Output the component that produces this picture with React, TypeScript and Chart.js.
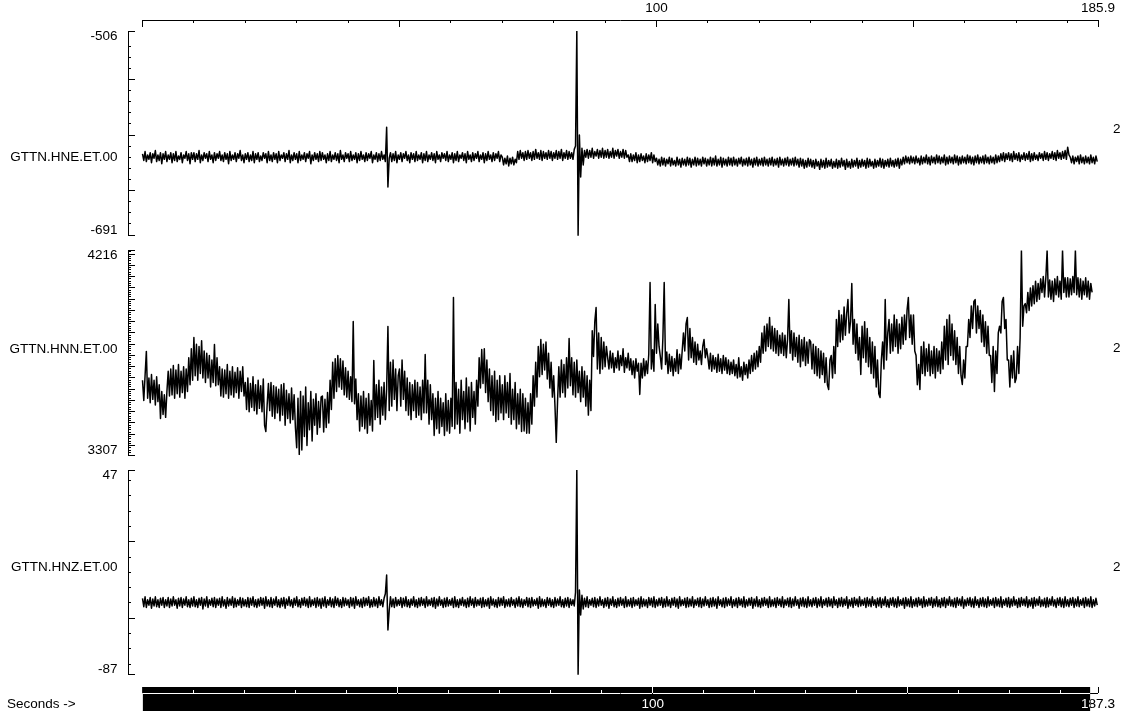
import React, { useEffect, useRef } from 'react';
import { Chart, registerables } from 'chart.js';

Chart.register(...registerables);

// ---------------- data ----------------
const SAMPLE_DT = 0.25; // seconds between plotted samples
const CHANNELS = ['GTTN.HNE.ET.00', 'GTTN.HNN.ET.00', 'GTTN.HNZ.ET.00'];
const CHANNEL_GAINS = ['2', '2', '2'];
const HNE_RANGE = [-691, -506];
const HNN_RANGE = [3307, 4216];
const HNZ_RANGE = [-87, 47];

const HNE_VALUES = [
  -617, -623, -615, -624, -618, -622, -616, -625, -617, -621, -614, -624, -618, -623, -616, -626, -617, -622, -615, -624,
  -618, -622, -616, -625, -617, -623, -615, -624, -619, -622, -616, -625, -618, -621, -615, -623, -617, -626, -616, -622,
  -616, -624, -617, -622, -614, -625, -618, -623, -616, -621, -617, -624, -615, -622, -618, -625, -616, -623, -617, -621,
  -615, -623, -618, -624, -616, -622, -617, -626, -615, -623, -618, -622, -616, -624, -617, -621, -614, -623, -618, -625,
  -617, -622, -616, -624, -618, -623, -615, -625, -617, -622, -616, -624, -619, -623, -616, -621, -617, -625, -615, -623,
  -618, -624, -616, -622, -617, -625, -615, -623, -618, -621, -616, -624, -617, -622, -614, -625, -618, -623, -616, -622,
  -617, -625, -615, -623, -618, -622, -616, -624, -617, -621, -615, -626, -618, -623, -616, -622, -617, -624, -615, -623,
  -616, -622, -618, -625, -617, -623, -615, -624, -618, -622, -616, -623, -617, -625, -614, -622, -618, -624, -616, -621,
  -617, -624, -615, -623, -618, -622, -616, -625, -617, -623, -615, -622, -618, -624, -616, -623, -617, -621, -615, -625,
  -618, -622, -616, -624, -617, -623, -615, -622, -618, -624, -593, -647, -621, -616, -624, -617, -623, -615, -625, -618,
  -622, -616, -624, -617, -621, -615, -623, -618, -625, -616, -622, -617, -624, -615, -623, -618, -622, -616, -625, -617,
  -623, -615, -624, -618, -622, -616, -623, -617, -625, -615, -622, -618, -624, -616, -621, -617, -623, -615, -624, -618,
  -622, -616, -625, -617, -623, -615, -624, -618, -621, -616, -623, -617, -625, -615, -622, -618, -624, -616, -623, -617,
  -621, -615, -624, -618, -622, -616, -625, -617, -623, -615, -622, -618, -624, -616, -623, -617, -621, -615, -624, -618,
  -620, -627, -621, -626, -619, -628, -621, -626, -620, -627, -622, -625, -615, -622, -614, -621, -616, -623, -615, -622,
  -614, -621, -616, -623, -615, -622, -613, -621, -616, -622, -614, -623, -615, -621, -616, -622, -614, -621, -615, -623,
  -616, -621, -614, -622, -615, -621, -613, -623, -616, -621, -614, -622, -615, -621, -616, -622, -613, -610, -506, -691,
  -600, -638, -612, -627, -614, -620, -613, -621, -614, -620, -612, -621, -615, -619, -613, -621, -614, -620, -612, -621,
  -614, -620, -613, -621, -615, -620, -612, -621, -614, -619, -613, -621, -615, -620, -613, -621, -614, -620, -618, -624,
  -617, -624, -618, -623, -616, -625, -618, -624, -617, -623, -619, -625, -617, -624, -618, -623, -616, -625, -618, -624,
  -621, -627, -622, -628, -620, -627, -621, -628, -622, -626, -620, -628, -621, -627, -623, -628, -620, -627, -622, -629,
  -621, -627, -622, -628, -620, -627, -621, -629, -622, -627, -620, -628, -621, -627, -622, -628, -620, -626, -621, -628,
  -622, -627, -620, -628, -621, -627, -619, -628, -622, -627, -620, -629, -621, -627, -622, -628, -620, -627, -621, -628,
  -620, -627, -622, -628, -621, -626, -620, -628, -622, -627, -621, -628, -620, -627, -622, -629, -621, -627, -620, -628,
  -622, -627, -621, -628, -620, -627, -622, -628, -621, -627, -620, -628, -622, -627, -621, -629, -620, -627, -622, -628,
  -621, -627, -620, -628, -622, -627, -621, -628, -620, -627, -622, -629, -621, -628, -622, -630, -623, -629, -621, -628,
  -622, -629, -623, -630, -622, -628, -624, -631, -622, -629, -623, -630, -621, -629, -623, -628, -622, -630, -624, -629,
  -622, -630, -623, -629, -621, -628, -623, -631, -622, -629, -624, -630, -622, -629, -623, -628, -621, -630, -623, -629,
  -622, -628, -623, -630, -621, -629, -622, -628, -624, -630, -622, -629, -623, -628, -621, -629, -622, -630, -623, -628,
  -622, -629, -621, -628, -623, -629, -622, -628, -621, -630, -622, -627, -620, -626, -619, -625, -620, -626, -619, -625,
  -620, -626, -619, -625, -621, -627, -619, -626, -620, -625, -618, -626, -620, -627, -619, -625, -620, -626, -618, -625,
  -619, -626, -620, -625, -618, -627, -620, -626, -619, -625, -620, -626, -618, -625, -619, -627, -620, -626, -619, -625,
  -620, -626, -618, -625, -619, -626, -620, -627, -619, -625, -618, -626, -620, -625, -619, -626, -618, -625, -620, -626,
  -619, -625, -620, -626, -618, -625, -619, -624, -617, -623, -616, -624, -617, -622, -616, -623, -617, -624, -615, -622,
  -617, -623, -616, -624, -618, -622, -616, -623, -617, -622, -615, -624, -617, -623, -616, -622, -618, -623, -616, -621,
  -617, -623, -615, -622, -616, -623, -617, -621, -615, -622, -616, -623, -614, -621, -616, -622, -615, -621, -614, -622,
  -611, -618, -620, -625, -619, -626, -620, -624, -619, -626, -618, -625, -620, -626, -619, -625, -620, -626, -618, -625,
  -620, -626, -619, -624,
];

const HNN_VALUES = [
  3640, 3550, 3660, 3768, 3560, 3650, 3540, 3665, 3555, 3640, 3530, 3655, 3545, 3620, 3470, 3590, 3488, 3575, 3475, 3590,
  3680, 3570, 3690, 3575, 3705, 3560, 3685, 3580, 3710, 3565, 3680, 3585, 3700, 3560, 3690, 3590, 3740, 3620, 3780, 3640,
  3830, 3660, 3800, 3640, 3790, 3670, 3815, 3650, 3770, 3630, 3760, 3650, 3750, 3610, 3730, 3630, 3799, 3615, 3740, 3620,
  3700, 3570, 3690, 3565, 3685, 3580, 3710, 3560, 3680, 3575, 3700, 3565, 3675, 3585, 3695, 3560, 3680, 3590, 3700, 3570,
  3630, 3510, 3650, 3500, 3625, 3520, 3655, 3505, 3620, 3490, 3640, 3515, 3615, 3500, 3645, 3440, 3412, 3530, 3625, 3505,
  3630, 3480, 3615, 3470, 3610, 3495, 3600, 3460, 3620, 3485, 3625, 3440, 3595, 3470, 3580, 3450, 3605, 3465, 3575, 3430,
  3340, 3560, 3310, 3590, 3330, 3570, 3390, 3610, 3350, 3540, 3420, 3590, 3370, 3555, 3440, 3580, 3400, 3545, 3430, 3565,
  3570, 3410, 3555, 3430, 3585, 3450, 3640, 3510, 3720, 3560, 3735, 3590, 3750, 3610, 3735, 3600, 3725, 3575, 3695, 3565,
  3680, 3555, 3655, 3545, 3901, 3535, 3645, 3465, 3580, 3415, 3570, 3435, 3590, 3425, 3560, 3405, 3580, 3440, 3550, 3415,
  3728, 3465, 3620, 3475, 3640, 3445, 3610, 3485, 3630, 3465, 3600, 3879, 3505, 3720, 3525, 3730, 3555, 3690, 3505, 3660,
  3690, 3525, 3730, 3555, 3680, 3505, 3650, 3485, 3630, 3465, 3620, 3505, 3640, 3475, 3630, 3485, 3610, 3465, 3640, 3495,
  3754, 3495, 3640, 3445, 3620, 3465, 3580, 3395, 3560, 3425, 3590, 3405, 3560, 3435, 3540, 3395, 3580, 3415, 3550, 3405,
  3560, 3435, 4007, 3425, 3630, 3445, 3600, 3405, 3640, 3465, 3590, 3425, 3650, 3455, 3610, 3415, 3630, 3475, 3590, 3445,
  3640, 3525, 3740, 3605, 3776, 3625, 3780, 3585, 3730, 3545, 3690, 3505, 3660, 3485, 3680, 3457, 3640, 3465, 3660, 3495,
  3620, 3465, 3660, 3495, 3630, 3475, 3670, 3445, 3600, 3465, 3630, 3425, 3580, 3445, 3600, 3412, 3580, 3415, 3560, 3405,
  3540, 3405, 3580, 3445, 3660, 3525, 3720, 3565, 3790, 3655, 3821, 3665, 3800, 3685, 3810, 3645, 3760, 3605, 3720, 3565,
  3660, 3525, 3364, 3545, 3700, 3565, 3730, 3585, 3710, 3565, 3740, 3605, 3825, 3615, 3740, 3575, 3720, 3565, 3730, 3585,
  3680, 3545, 3700, 3565, 3680, 3525, 3660, 3485, 3640, 3505, 3860, 3745, 3900, 3963, 3690, 3850, 3670, 3830, 3690, 3810,
  3700, 3790, 3740, 3690, 3770, 3695, 3760, 3675, 3740, 3695, 3770, 3685, 3750, 3705, 3780, 3675, 3740, 3695, 3760, 3685,
  3735, 3665, 3725, 3650, 3735, 3680, 3715, 3577, 3715, 3650, 3735, 3660, 3725, 3670, 3755, 4074, 3690, 3775, 3680, 3976,
  3760, 3890, 3790, 3745, 3690, 3830, 4074, 3710, 3765, 3670, 3755, 3680, 3745, 3660, 3735, 3680, 3775, 3670, 3755, 3690,
  3770, 3850, 3770, 3890, 3918, 3730, 3870, 3740, 3830, 3720, 3810, 3710, 3800, 3730, 3770, 3710, 3790, 3821, 3740, 3780,
  3740, 3690, 3760, 3680, 3750, 3690, 3740, 3675, 3755, 3680, 3735, 3670, 3750, 3685, 3740, 3670, 3730, 3665, 3720, 3670,
  3730, 3660, 3710, 3650, 3740, 3655, 3700, 3640, 3720, 3665, 3710, 3650, 3730, 3670, 3750, 3680, 3760, 3690, 3770, 3700,
  3790, 3720, 3850, 3760, 3880, 3770, 3890, 3790, 3918, 3780, 3880, 3770, 3870, 3760, 3860, 3750, 3840, 3760, 3850, 3750,
  3840, 3740, 3820, 3998, 3760, 3860, 3730, 3850, 3745, 3830, 3720, 3840, 3700, 3820, 3725, 3830, 3705, 3810, 3715, 3820,
  3810, 3690, 3800, 3670, 3790, 3660, 3780, 3650, 3770, 3665, 3760, 3630, 3740, 3620, 3599, 3730, 3750, 3650, 3790, 3670,
  3910, 3790, 3950, 3810, 3930, 3820, 3965, 3840, 3935, 3998, 3850, 3900, 4069, 3800, 3910, 3760, 3890, 3730, 3830, 3665,
  3880, 3740, 3900, 3720, 3870, 3700, 3830, 3670, 3810, 3650, 3790, 3610, 3730, 3580, 3563, 3730, 3810, 3690, 3998, 3730,
  3850, 3910, 3760, 3890, 3770, 3930, 3790, 3910, 3760, 3890, 3780, 3920, 3800, 3930, 3820, 3950, 4007, 3830, 3930, 3800,
  3930, 3770, 3750, 3620, 3710, 3599, 3790, 3670, 3810, 3660, 3780, 3680, 3800, 3660, 3770, 3670, 3790, 3650, 3780, 3680,
  3770, 3670, 3810, 3690, 3880, 3730, 3910, 3710, 3930, 3750, 3890, 3730, 3860, 3710, 3830, 3670, 3790, 3660, 3621, 3730,
  3650, 3790, 3790, 3910, 3830, 3970, 3870, 3990, 3998, 3850, 3970, 3870, 3950, 3810, 3930, 3790, 3900, 3760, 3880, 3750,
  3750, 3630, 3790, 3590, 3770, 3670, 3850, 3880, 3850, 3990, 4007, 3870, 3910, 3730, 3730, 3610, 3750, 3650, 3770, 3630,
  3650, 3790, 3670, 3830, 4216, 3880, 3970, 3980, 3940, 4030, 3950, 4050, 3970, 4060, 3980, 4080, 3990, 4070, 4000, 4090,
  4030, 4100, 4010, 4095, 4216, 4010, 4085, 4000, 4080, 3990, 4090, 4020, 4100, 4010, 4080, 4000, 4216, 4030, 4095, 4010,
  4095, 4010, 4090, 4020, 4100, 4030, 4216, 4020, 4095, 4010, 4090, 4000, 4080, 4020, 4095, 4010, 4080, 4000, 4070, 4030,
];

const HNZ_VALUES = [
  -37, -42.5, -36, -43, -38, -41.5, -36.5, -43.5, -37.5, -42, -36, -42.5, -38, -43, -37, -41.5, -36.5, -43, -38, -42,
  -36.5, -43, -37.5, -42, -36, -41.5, -38, -43.5, -37, -42, -36.5, -43, -37.5, -41.5, -36, -42.5, -38, -43, -37, -42,
  -36, -42.5, -38, -43, -37, -41.5, -36.5, -44, -37.5, -42, -36, -43, -38, -41.5, -37, -42.5, -36.5, -43, -37.5, -41.5,
  -37, -43, -36, -42, -38, -43.5, -36.5, -42, -37.5, -41.5, -36, -43, -37, -42.5, -38, -41.5, -36.5, -43, -37, -42,
  -38, -42.5, -36.5, -43, -37, -41.5, -36, -42.5, -38, -43, -37.5, -42, -36.5, -41.5, -37, -43.5, -36, -42, -38, -42.5,
  -36.5, -43, -37.5, -41.5, -36, -42.5, -38, -43, -37, -42, -36.5, -43.5, -37.5, -41.5, -36, -42, -38, -43, -37, -41.5,
  -36, -42.5, -38, -43, -37, -41.5, -36.5, -42, -37.5, -43, -36, -42.5, -38, -41.5, -37, -43, -36.5, -42, -37.5, -43.5,
  -37, -42, -36, -43, -38, -41.5, -36.5, -42.5, -37.5, -43, -36, -41.5, -37, -42.5, -38, -43, -36.5, -42, -37, -41.5,
  -38, -43, -36.5, -42, -37, -43.5, -36, -41.5, -38, -42.5, -37.5, -43, -36.5, -42, -37, -41.5, -36, -43, -38, -42.5,
  -36.5, -42, -37.5, -43, -36, -41.5, -38, -42.5, -37, -34, -21.7, -57.7, -45, -36, -42.5, -37.5, -43, -36.5, -42, -38,
  -41.5, -36.5, -43, -37, -42, -36, -42.5, -38, -43, -37.5, -41.5, -36, -42.5, -38, -43, -37, -42, -36.5, -41.5, -37.5,
  -43, -36, -42, -38, -41.5, -37, -42.5, -36.5, -43.5, -37.5, -42, -36, -41.5, -38, -43, -37, -42.5, -36.5, -42, -38,
  -41.5, -37, -43, -36, -42.5, -38, -43, -37.5, -41.5, -36.5, -42, -38, -43, -37, -42.5, -36, -41.5, -37.5, -43, -36.5,
  -42, -38, -41.5, -37, -43, -36.5, -42.5, -38, -42, -37, -43.5, -36, -41.5, -37.5, -42.5, -38, -43, -36.5, -42, -37,
  -41.5, -36, -43, -38, -42, -37.5, -42.5, -36.5, -41.5, -38, -43, -37, -42, -36, -42.5, -37.5, -43, -38, -41.5, -36.5,
  -42.5, -37, -43, -36.5, -42, -38, -41.5, -37, -43.5, -36, -42.5, -37.5, -42, -38, -43, -36.5, -41.5, -37, -42.5, -38,
  -43, -36.5, -42, -37.5, -41.5, -36, -42.5, -38, -43, -37, -42, -36.5, -43, -37.5, -41.5, -38, -42, -33, 47, -87,
  -31.5, -47.9, -35, -44, -37, -42.5, -36, -43, -38, -41.5, -37, -42.5, -36.5, -43, -37.5, -42, -36, -41.5, -38, -43,
  -37, -42, -36.5, -43.5, -37.5, -41.5, -36, -42.5, -38, -43, -37, -42, -36.5, -41.5, -37.5, -43, -36, -42.5, -38, -42,
  -37, -43, -36.5, -42, -38, -41.5, -37, -43.5, -36, -42.5, -37.5, -42, -38, -43, -36.5, -41.5, -37, -42.5, -36, -43,
  -38, -42, -37, -41.5, -36.5, -43, -37.5, -42.5, -36, -42, -38, -43, -37, -41.5, -36.5, -42.5, -37.5, -43.5, -36, -42,
  -38, -41.5, -37, -43, -36.5, -42.5, -37.5, -42, -36, -43, -38, -41.5, -37, -42.5, -36.5, -43, -37.5, -42, -36, -41.5,
  -38, -43, -37, -42.5, -36.5, -42, -37.5, -43.5, -36, -41.5, -38, -42.5, -37, -43, -36.5, -42, -37.5, -41.5, -36, -43,
  -38, -42, -37, -43, -36.5, -41.5, -37.5, -42.5, -36, -43, -38, -42, -37, -41.5, -36.5, -43.5, -37.5, -42, -36, -42.5,
  -38, -43, -37, -42, -36.5, -41.5, -37.5, -43, -36, -42.5, -38, -42, -37, -43, -36.5, -41.5, -37.5, -42.5, -36, -43,
  -38, -41.5, -37, -42.5, -36.5, -43, -37.5, -42, -36, -41.5, -38, -43.5, -37, -42, -36.5, -42.5, -37.5, -43, -36, -42,
  -38, -42.5, -37, -41.5, -36.5, -43, -37.5, -42, -36, -43, -38, -41.5, -37, -42.5, -36.5, -42, -37.5, -43, -36, -41.5,
  -38, -43, -37, -42, -36.5, -42.5, -37.5, -41.5, -36, -43.5, -38, -42, -37, -43, -36.5, -41.5, -37.5, -42.5, -36, -42,
  -38, -41.5, -37, -43, -36.5, -42, -37.5, -42.5, -36, -41.5, -38, -43, -37, -42, -36.5, -43, -37.5, -41.5, -36, -42.5,
  -38, -43, -37, -41.5, -36.5, -42.5, -37.5, -43, -36, -42, -38, -41.5, -37, -43.5, -36.5, -42, -37.5, -42.5, -36, -43,
  -38, -42, -37, -42.5, -36.5, -41.5, -37.5, -43, -36, -42.5, -38, -42, -37, -41.5, -36.5, -43, -37.5, -42, -36, -42.5,
  -38, -43, -37, -42, -36.5, -43, -37.5, -41.5, -36, -42, -38, -42.5, -37, -43, -36.5, -41.5, -37.5, -42, -36, -43.5,
  -38, -42, -37, -41.5, -36.5, -42.5, -37.5, -43, -36, -41.5, -38, -43, -37, -42, -36.5, -42.5, -37.5, -43, -36, -42,
  -38, -41.5, -37, -43, -36.5, -42, -37.5, -42.5, -36, -43, -38, -41.5, -37, -42.5, -36.5, -43, -37.5, -42, -36, -41.5,
  -38, -43, -37, -42.5, -36.5, -41.5, -37.5, -42, -36, -43, -38, -42, -37, -43.5, -36.5, -42, -37.5, -41.5, -36, -42.5,
  -38, -42, -37, -43, -36.5, -42.5, -37.5, -41.5, -36, -42, -38, -43, -37, -41.5, -36.5, -42.5, -37.5, -43, -36, -42,
  -38, -42.5, -37, -41.5, -36.5, -43, -37.5, -42, -36, -42.5, -38, -41.5, -37, -43, -36.5, -42, -37.5, -42.5, -36, -43,
  -38, -42, -37, -41.5,
];

const TOP_AXIS_MAX = 185.9;
const TOP_MAJOR_TICKS = [0, 50, 100, 150, 185.9];
const TOP_MINOR_TICKS = [10, 20, 30, 40, 60, 70, 80, 90, 110, 120, 130, 140, 160, 170, 180];
const TOP_TICK_LABELS = [100, 185.9];
const BOTTOM_AXIS_MAX = 187.3;
const BOTTOM_MAJOR_TICKS = [0, 50, 100, 150, 187.3];
const BOTTOM_MINOR_TICKS = [10, 20, 30, 40, 60, 70, 80, 90, 110, 120, 130, 140, 160, 170, 180];
const BOTTOM_TICK_LABELS = [100, 187.3];
const BOTTOM_BAR_SPAN = [0, 185.8];
const X_AXIS_TITLE = 'Seconds ->';

// ---------------- layout / style ----------------
const W = 1123;
const FONT = { family: '"Liberation Sans", Arial, Helvetica, sans-serif', size: 13.5, lineHeight: 0.74 };
const TRACE_WIDTH = 1.5;
const PLOT_LEFT = 142.5;
const PLOT_RIGHT = 1098;
const AXIS_LINE_X = 128;
const PX_PER_SEC = (PLOT_RIGHT - PLOT_LEFT) / TOP_AXIS_MAX;
const X_MIN = -(PLOT_LEFT - AXIS_LINE_X) / PX_PER_SEC;
const PANEL_H = 204.7;
const CANVAS_H = 214;
const PANEL_LAYOUT = [
  { canvasTop: 27, plotTop: 31, labelFrac: 0.3845, gainFrac: 0.5213 },
  { canvasTop: 246, plotTop: 250.5, labelFrac: 0.5188, gainFrac: 0.5237 },
  { canvasTop: 466, plotTop: 470, labelFrac: 0.5261, gainFrac: 0.5261 },
];

const baseOptions: any = {
  responsive: false,
  animation: false,
  events: [],
  plugins: { legend: { display: false }, tooltip: { enabled: false } },
};

function zeroPad(s: any) {
  s.paddingTop = 0;
  s.paddingBottom = 0;
  s.paddingLeft = 0;
  s.paddingRight = 0;
}

function TracePanel({ values, range, channel, gain, layout }: any) {
  const ref = useRef<HTMLCanvasElement>(null);
  useEffect(() => {
    const [min, max] = range;
    const span = max - min;
    const anchor = min + layout.labelFrac * span;
    const major: number[] = [min];
    for (let v = Math.ceil(min / 50) * 50; v < max; v += 50) if (v > min) major.push(v);
    major.push(max);
    const minor: number[] = [];
    for (let v = Math.ceil(min / 10) * 10; v < max; v += 10) {
      if (v % 50 === 0 || v - min < 5 || max - v < 5) continue;
      minor.push(v);
    }
    const padTop = layout.plotTop - layout.canvasTop;
    const padBottom = CANVAS_H - padTop - PANEL_H;
    const chart = new Chart(ref.current as HTMLCanvasElement, {
      type: 'line',
      data: {
        datasets: [
          {
            data: values.map((y: number, i: number) => ({ x: i * SAMPLE_DT, y })),
            borderColor: '#000',
            borderWidth: TRACE_WIDTH,
            borderJoinStyle: 'round',
            pointRadius: 0,
            tension: 0,
            fill: false,
            xAxisID: 'x',
            yAxisID: 'y',
          },
        ],
      },
      options: {
        ...baseOptions,
        layout: { padding: { left: 0, right: 0, top: padTop, bottom: padBottom } },
        scales: {
          x: { type: 'linear', axis: 'x', display: false, min: X_MIN, max: TOP_AXIS_MAX },
          y: {
            type: 'linear', axis: 'y', position: 'left', weight: 1, min, max,
            afterBuildTicks: (s: any) => { s.ticks = [...major, anchor].map((value) => ({ value })); },
            afterFit: (s: any) => { s.width = AXIS_LINE_X; zeroPad(s); },
            grid: {
              display: true, drawOnChartArea: false, drawTicks: true, tickLength: -7,
              color: '#000', lineWidth: 1, tickWidth: 1,
              tickColor: (c: any) => (c.tick && c.tick.value === anchor ? 'rgba(0,0,0,0)' : '#000'),
            },
            border: { display: true, color: '#000', width: 1 },
            ticks: {
              autoSkip: false, padding: 17.5, color: '#000', font: FONT,
              callback: (v: number) =>
                v === max ? ['', String(max)] : v === min ? [String(min), ''] : v === anchor ? channel : '',
            },
          },
          y2: {
            type: 'linear', axis: 'y', position: 'left', weight: 0, min, max,
            afterBuildTicks: (s: any) => { s.ticks = minor.map((value) => ({ value })); },
            afterFit: (s: any) => { s.width = 0; zeroPad(s); },
            grid: { display: true, drawOnChartArea: false, drawTicks: true, tickLength: -3, color: '#000', lineWidth: 1 },
            border: { display: false },
            ticks: { display: false, autoSkip: false },
          },
          yR: {
            type: 'linear', axis: 'y', position: 'right', min: 0, max: 1,
            afterBuildTicks: (s: any) => { s.ticks = [{ value: layout.gainFrac }]; },
            afterFit: (s: any) => { s.width = W - PLOT_RIGHT; zeroPad(s); },
            grid: { display: false, drawTicks: false },
            border: { display: false },
            ticks: { autoSkip: false, padding: 15, color: '#000', font: FONT, callback: () => gain },
          },
        },
      } as any,
    } as any);
    return () => chart.destroy();
  }, []);
  return (
    <canvas ref={ref} width={W} height={CANVAS_H}
      style={{ position: 'absolute', left: 0, top: layout.canvasTop, width: W, height: CANVAS_H }} />
  );
}

function TopAxis() {
  const ref = useRef<HTMLCanvasElement>(null);
  useEffect(() => {
    const chart = new Chart(ref.current as HTMLCanvasElement, {
      type: 'line',
      data: { datasets: [] },
      options: {
        ...baseOptions,
        layout: { padding: { left: PLOT_LEFT, right: W - PLOT_RIGHT, top: 0, bottom: 0 } },
        scales: {
          y: { type: 'linear', display: false, min: 0, max: 1 },
          x: {
            type: 'linear', axis: 'x', position: 'top', weight: 1, min: 0, max: TOP_AXIS_MAX,
            afterBuildTicks: (s: any) => { s.ticks = TOP_MAJOR_TICKS.map((value) => ({ value })); },
            afterFit: (s: any) => { s.height = 20; zeroPad(s); },
            grid: { display: true, drawOnChartArea: false, drawTicks: true, tickLength: -7, color: '#000', lineWidth: 1 },
            border: { display: true, color: '#000', width: 1 },
            ticks: {
              autoSkip: false, maxRotation: 0, minRotation: 0, padding: 13.6, color: '#000', font: FONT,
              callback: (v: number) => (TOP_TICK_LABELS.includes(v) ? String(v) : ''),
            },
          },
          x2: {
            type: 'linear', axis: 'x', position: 'top', weight: 0, min: 0, max: TOP_AXIS_MAX,
            afterBuildTicks: (s: any) => { s.ticks = TOP_MINOR_TICKS.map((value) => ({ value })); },
            afterFit: (s: any) => { s.height = 0; zeroPad(s); },
            grid: { display: true, drawOnChartArea: false, drawTicks: true, tickLength: -3, color: '#000', lineWidth: 1 },
            border: { display: false },
            ticks: { display: false, autoSkip: false },
          },
        },
      } as any,
    } as any);
    return () => chart.destroy();
  }, []);
  return (
    <canvas ref={ref} width={W} height={32}
      style={{ position: 'absolute', left: 0, top: 0, width: W, height: 32 }} />
  );
}

const xorAxisPlugin = {
  id: 'xorAxis',
  beforeDraw(chart: any) {
    const { ctx, width, height } = chart;
    ctx.save();
    ctx.fillStyle = '#fff';
    ctx.fillRect(0, 0, width, height);
    ctx.restore();
  },
  afterDatasetsDraw(chart: any) {
    chart.ctx.globalCompositeOperation = 'difference';
  },
  afterDraw(chart: any) {
    chart.ctx.globalCompositeOperation = 'source-over';
  },
};

function BottomAxis() {
  const ref = useRef<HTMLCanvasElement>(null);
  useEffect(() => {
    const BAR_TOP = 24;
    const AXIS_AT = 18;
    const TITLE_AT = 7;
    const chart = new Chart(ref.current as HTMLCanvasElement, {
      type: 'line',
      data: {
        datasets: [
          {
            data: [
              { x: BOTTOM_BAR_SPAN[0], y: BAR_TOP },
              { x: BOTTOM_BAR_SPAN[1], y: BAR_TOP },
            ],
            borderWidth: 0,
            borderColor: '#000',
            backgroundColor: '#000',
            pointRadius: 0,
            fill: 'start',
            xAxisID: 'x',
            yAxisID: 'y',
          },
        ],
      },
      options: {
        ...baseOptions,
        layout: { padding: { left: 7, right: W - PLOT_RIGHT, top: 7, bottom: 4 } },
        scales: {
          y: {
            type: 'linear', axis: 'y', position: 'left', min: 0, max: BAR_TOP,
            afterBuildTicks: (s: any) => { s.ticks = [{ value: TITLE_AT }]; },
            afterFit: (s: any) => { s.width = PLOT_LEFT - 7; zeroPad(s); },
            grid: { display: false, drawTicks: false },
            border: { display: false },
            ticks: { autoSkip: false, crossAlign: 'far', padding: 0, color: '#000', font: FONT, callback: () => X_AXIS_TITLE },
          },
          x: {
            type: 'linear', axis: 'x', position: { y: AXIS_AT }, min: 0, max: BOTTOM_AXIS_MAX,
            afterBuildTicks: (s: any) => { s.ticks = BOTTOM_MAJOR_TICKS.map((value) => ({ value })); },
            afterFit: (s: any) => { zeroPad(s); },
            grid: { display: true, drawOnChartArea: false, drawTicks: true, tickLength: -7, color: '#fff', lineWidth: 1, z: 1 },
            border: { display: true, color: '#fff', width: 1, z: 1 },
            ticks: {
              z: 1, autoSkip: false, maxRotation: 0, minRotation: 0, padding: 13, color: '#fff', font: FONT,
              callback: (v: number) => (BOTTOM_TICK_LABELS.includes(v) ? String(v) : ''),
            },
          },
          x2: {
            type: 'linear', axis: 'x', position: { y: AXIS_AT }, min: 0, max: BOTTOM_AXIS_MAX,
            afterBuildTicks: (s: any) => { s.ticks = BOTTOM_MINOR_TICKS.map((value) => ({ value })); },
            afterFit: (s: any) => { zeroPad(s); },
            grid: { display: true, drawOnChartArea: false, drawTicks: true, tickLength: -3, color: '#fff', lineWidth: 1, z: 1 },
            border: { display: false },
            ticks: { display: false, autoSkip: false },
          },
        },
      } as any,
      plugins: [xorAxisPlugin],
    } as any);
    return () => chart.destroy();
  }, []);
  return (
    <canvas ref={ref} width={W} height={35}
      style={{ position: 'absolute', left: 0, top: 680, width: W, height: 35 }} />
  );
}

const SERIES = [HNE_VALUES, HNN_VALUES, HNZ_VALUES];
const RANGES = [HNE_RANGE, HNN_RANGE, HNZ_RANGE];

export default function App() {
  return (
    <div style={{ position: 'absolute', left: 0, top: 0, width: W, height: 715, background: '#fff', overflow: 'hidden' }}>
      <TopAxis />
      {SERIES.map((values, i) => (
        <TracePanel key={CHANNELS[i]} values={values} range={RANGES[i]} channel={CHANNELS[i]}
          gain={CHANNEL_GAINS[i]} layout={PANEL_LAYOUT[i]} />
      ))}
      <BottomAxis />
    </div>
  );
}
